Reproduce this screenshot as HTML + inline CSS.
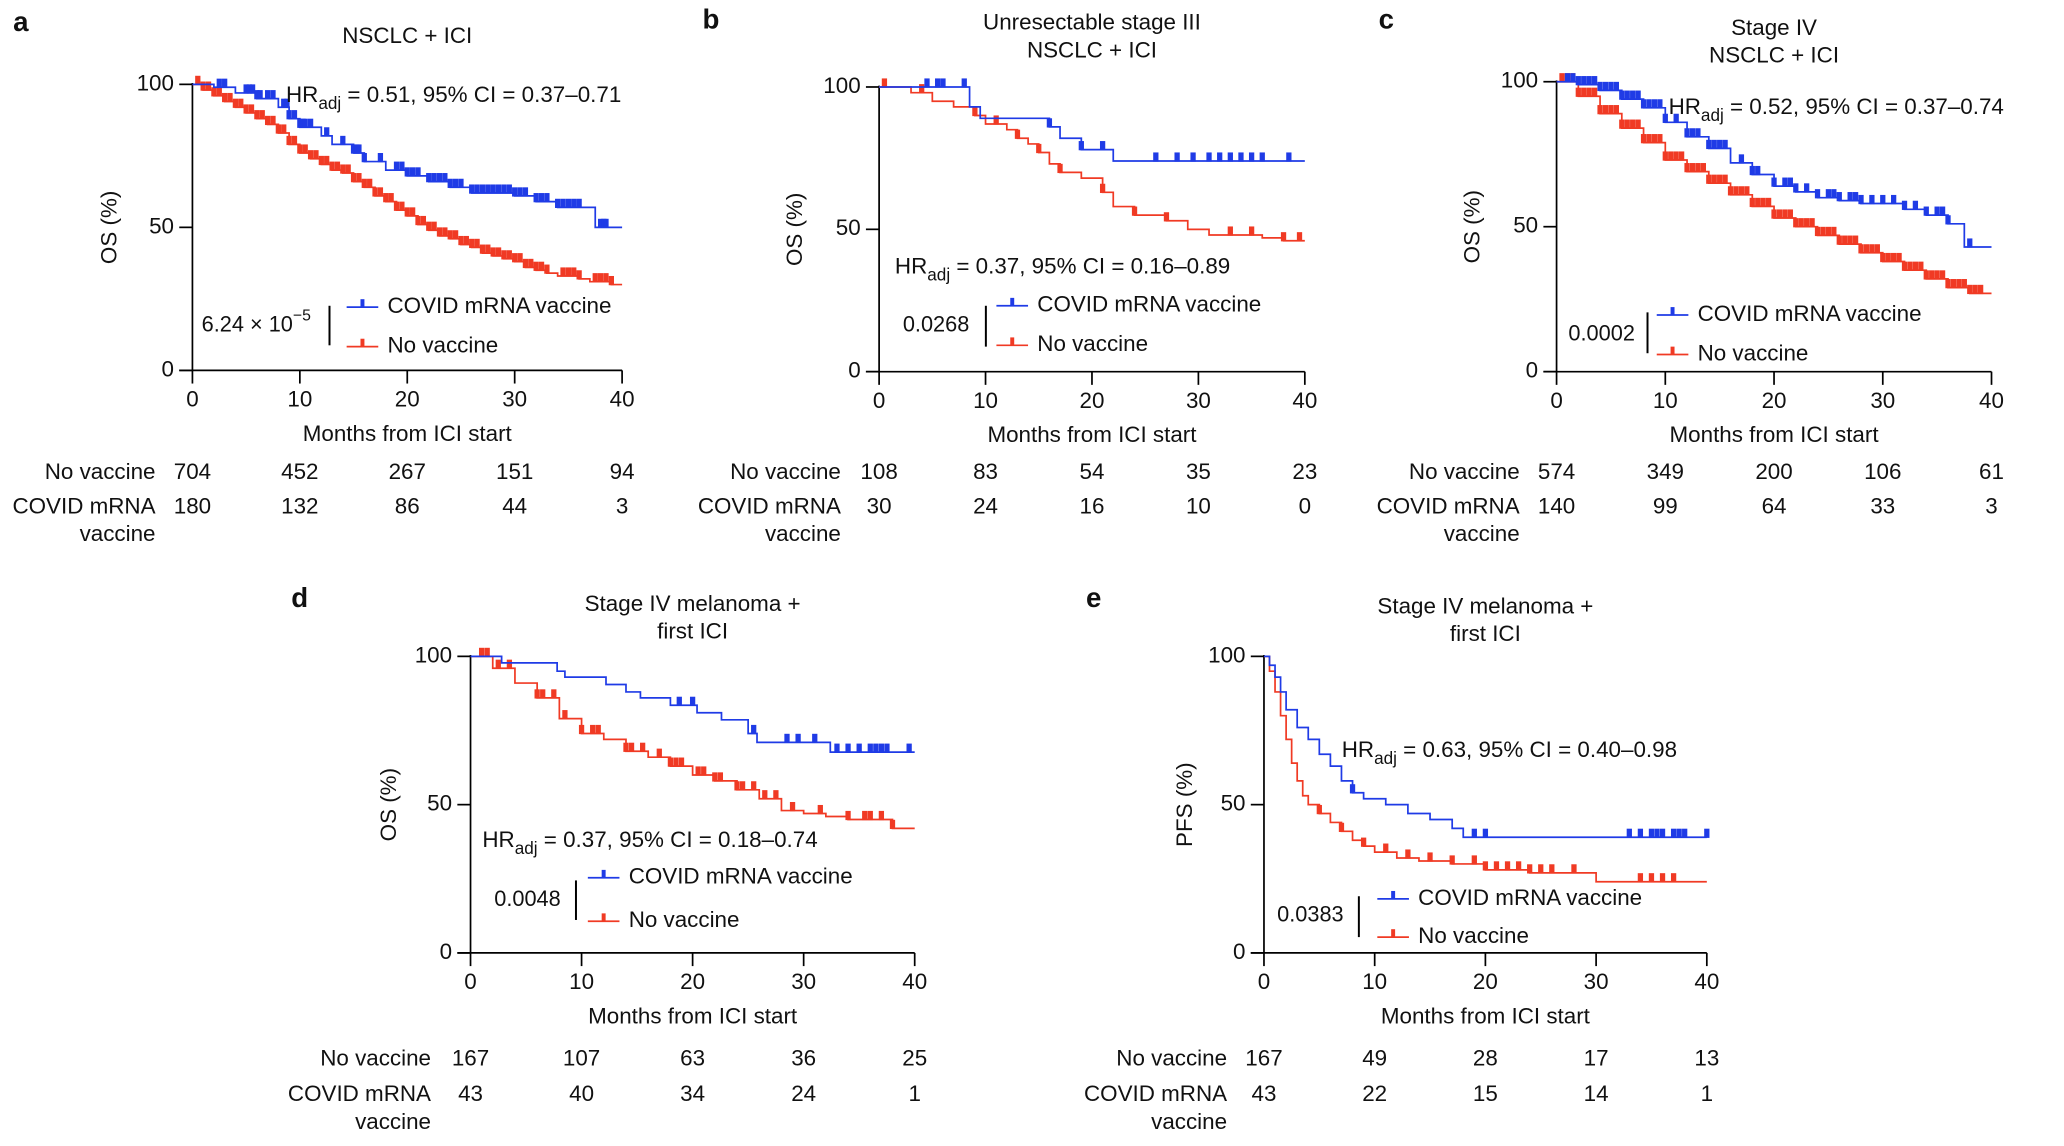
<!DOCTYPE html>
<html><head><meta charset="utf-8">
<style>
html,body{margin:0;padding:0;background:#fff;}
svg{display:block;}
text{font-family:"Liberation Sans",Arial,sans-serif;fill:#111;}
</style></head>
<body>
<svg id="fig" width="2064" height="1146" viewBox="0 0 1566 869.5" preserveAspectRatio="none" xmlns="http://www.w3.org/2000/svg"></svg>
<script>
// ---------- data ----------
const xTicks = [0,10,20,30,40];
const yTicks = [0,50,100];
// panel a
const aBlueT = [0,2,4,6,8,9,10,12,13,15,16,18,20,22,24,26,28,30,32,34,37.5];
const aBlueS = [100,99,97,95,92,88,85,82,79,76,73,70,68,66,64,62,62,61,59,57,50];
const aRedT = [0,1,2,3,4,5,6,7,8,9,10,11,12,13,14,15,16,17,18,19,20,21,22,23,24,25,26,27,28,29,30,31,32,33,34,35,36,37,38,39];
const aRedS = [100,98,96,94,92,90,88,86,83,79,76,74,72,70,69,66,64,61,59,56,54,51,49,47,46,44,43,41,40,39,38,36,35,34,33,33,32,31,31,30];
const aBlueC = [2.5,3,5,5.3,5.6,6,6.3,7,7.5,8.5,8.8,9,9.5,10,10.3,10.5,11,12.5,14,15,15.3,15.5,16,17.5,19,19.5,20,20.5,21,22,22.5,23,23.5,24,24.5,25,26,26.5,27,27.5,28,28.5,29,29.5,30,30.5,31,32,32.5,33,34,34.5,35,35.5,36,38,38.3,38.5];
const aRedC = [0.5,1,1.5,2,2.5,3,3.5,4,4.5,5,5.5,6,6.5,7,7.5,8,8.5,9,9.5,10,10.5,11,11.5,12,12.5,13,13.5,14,14.5,15,15.5,16,16.5,17,17.5,18,18.5,19,19.5,20,20.5,21,21.5,22,22.5,23,23.5,24,24.5,25,25.5,26,26.5,27,27.5,28,28.5,29,29.5,30,30.5,31,31.5,32,32.5,33,34.5,35,35.5,36,37.5,38,38.5,39];
const aRisk = [[704,452,267,151,94],[180,132,86,44,3]];
// panel b
const bBlueT = [0,8.5,9.5,16,17,19,22];
const bBlueS = [100,93,89,86,82,78,74];
const bRedT = [0,3,5,7,9,10,12,13,14,15,16,17,19,21,22,24,27,29,31,36,38];
const bRedS = [100,98,95,93,90,87,85,82,80,77,73,70,68,63,58,55,53,50,48,47,46];
const bBlueC = [4.5,5.5,6,8,16,19,21,26,28,29.5,31,32,33,34,35,36,38.5];
const bRedC = [0.5,4,9,11,13,15,17,21,24,27,33,35,38,39.5];
const bRisk = [[108,83,54,35,23],[30,24,16,10,0]];
// panel c
const cBlueT = [0,2,4,6,8,10,12,14,16,18,20,22,24,26,28,30,32,34,36,37.5];
const cBlueS = [100,99,97,94,91,86,81,77,72,68,64,62,60,59,58,58,56,54,51,43];
const cRedT = [0,2,4,6,8,10,12,14,16,18,20,22,24,26,28,30,32,34,36,38];
const cRedS = [100,95,89,84,79,73,69,65,61,57,53,50,47,44,41,38,35,32,29,27];
const cBlueC = [1,1.5,2,2.5,3,3.5,4,4.5,5,5.5,6,6.5,7,7.5,8,8.5,9,9.5,10,11,12,12.5,13,14,14.5,15,15.5,17,18,18.5,20,21,21.5,22,23,24,25,25.5,26,27,27.5,28,29,30,31,32,33,34,35,35.5,36,38];
const cRedC = [0.5,1,1.5,2,2.5,3,3.5,4,4.5,5,5.5,6,6.5,7,7.5,8,8.5,9,9.5,10,10.5,11,11.5,12,12.5,13,13.5,14,14.5,15,15.5,16,16.5,17,17.5,18,18.5,19,19.5,20,20.5,21,21.5,22,22.5,23,23.5,24,24.5,25,25.5,26,26.5,27,27.5,28,28.5,29,29.5,30,30.5,31,31.5,32,32.5,33,33.5,34,34.5,35,35.5,36,36.5,37,37.5,38,38.5,39];
const cRisk = [[574,349,200,106,61],[140,99,64,33,3]];
// panel d
const dBlueT = [0,2.8,7.8,8.5,12.2,14,15.3,18,20.4,22.6,25,25.8,32.4];
const dBlueS = [100,97.8,95,93,90.5,88,86,83.5,81,78.6,74,71,67.7];
const dRedT = [0,2,4,6,8,10,12,14,16,18,20,22,24,26,28,30,32,34,36,38];
const dRedS = [100,96,91,86,79,74,72,68,66,63,60,58,55,52,48,47,46,45,45,42];
const dBlueC = [18.8,20,25.5,28.5,29.5,31,33,34,35,36,36.5,37,37.5,39.5];
const dRedC = [1,1.5,2.5,3.5,6,6.5,7.5,8.5,10,11,11.5,14,14.5,15.5,17,18,18.5,19,20.5,21,22,22.5,24,24.5,25.5,26.5,27.5,29,31.5,34,35.5,36,37,38];
const dRisk = [[167,107,63,36,25],[43,40,34,24,1]];
// panel e
const eBlueT = [0,0.5,1,1.5,2,3,4,5,6,7,8,9,11,13,15,17,18];
const eBlueS = [100,97,93,88,82,76,72,67,63,58,54,52,50,47,45,42,39];
const eRedT = [0,0.5,1,1.5,2,2.5,3,3.5,4,5,6,7,8,9,10,12,14,17,20,24,30];
const eRedS = [100,95,88,80,72,64,58,53,50,47,44,41,38,36,34,32,31,30,28,27,24];
const eBlueC = [8,19,20,33,34,35,35.5,36,37,37.5,38,40];
const eRedC = [5,7,9,11,13,15,17,19,20,21,22,23,24,25,26,28,34,35,36,37];
const eRisk = [[167,49,28,17,13],[43,22,15,14,1]];

// ---------- drawing ----------
const NS = "http://www.w3.org/2000/svg";
const svg = document.getElementById('fig');
const BLUE = "#1f3be6", RED = "#f03a24";

function el(tag, attrs, name, parent){
  const e = document.createElementNS(NS, tag);
  for (const k in attrs) e.setAttribute(k, attrs[k]);
  
  
  (parent || svg).appendChild(e);
  return e;
}
function txt(x, y, s, size, anchor, name, parent, weight){
  const t = el('text', {x:x, y:y, 'font-size':size, 'text-anchor':anchor||'start', 'dominant-baseline':'middle'}, name, parent);
  if (weight) t.setAttribute('font-weight', weight);
  t.textContent = s;
  return t;
}
function sAt(T, S, c){ let v = S[0]; for (let i=0;i<T.length;i++){ if (T[i] <= c) v = S[i]; } return v; }

function panel(p){
  const g = el('g', {}, 'panel-' + p.id);
  const X = t => p.x0 + (p.x40 - p.x0) * t / 40;
  const Y = s => p.y0 - (p.y0 - p.y100) * s / 100;
  txt(p.lx, p.ly, p.id, 21, 'start', 'panel-label-' + p.id, g, 'bold');
  p.title.forEach((line, i) => txt((p.x0 + p.x40) / 2 + (p.tdx||0), p.ty + i * 21, line, 17, 'middle', 'panel-title', g));
  el('line', {x1:p.x0, y1:p.y100 - 1, x2:p.x0, y2:p.y0, stroke:'#000', 'stroke-width':1.3}, 'y-axis', g);
  el('line', {x1:p.x0 - 10, y1:p.y0, x2:p.x40, y2:p.y0, stroke:'#000', 'stroke-width':1.3}, 'x-axis', g);
  yTicks.forEach(v => {
    el('line', {x1:p.x0 - 10, y1:Y(v), x2:p.x0, y2:Y(v), stroke:'#000', 'stroke-width':1.3}, 'y-tick', g);
    txt(p.x0 - 14, Y(v), String(v), 17, 'end', 'y-tick-label', g);
  });
  xTicks.forEach(v => {
    el('line', {x1:X(v), y1:p.y0, x2:X(v), y2:p.y0 + 10, stroke:'#000', 'stroke-width':1.3}, 'x-tick', g);
    txt(X(v), p.y0 + 23, String(v), 17, 'middle', 'x-tick-label', g);
  });
  txt((p.x0 + p.x40) / 2, p.y0 + 49, 'Months from ICI start', 17, 'middle', 'x-axis-title', g);
  const yl = txt(p.ylx, (p.y0 + p.y100) / 2, p.ylab, 17, 'middle', 'y-axis-title', g);
  yl.setAttribute('transform', 'rotate(-90 ' + p.ylx + ' ' + ((p.y0 + p.y100) / 2) + ')');
  [[p.rT, p.rS, p.rC, RED, 'no-vaccine'], [p.bT, p.bS, p.bC, BLUE, 'vaccine']].forEach(sr => {
    const [T, S, C, col, nm] = sr;
    let d = 'M' + X(T[0]) + ' ' + Y(S[0]);
    for (let i = 1; i < T.length; i++) d += ' H' + X(T[i]) + ' V' + Y(S[i]);
    d += ' H' + X(p.end);
    el('path', {d:d, fill:'none', stroke:col, 'stroke-width':1.3}, 'km-curve-' + nm, g);
    C.forEach(c => {
      const s = sAt(T, S, c);
      el('rect', {x:X(c) - 2, y:Y(s) - 6.5, width:4, height:7, fill:col}, 'censor-mark-' + nm, g);
    });
  });
  const hr = el('text', {x:p.hrx, y:p.hry, 'font-size':17, 'dominant-baseline':'middle'}, 'hazard-ratio-text', g);
  hr.innerHTML = 'HR<tspan dy="6" font-size="13">adj</tspan><tspan dy="-6"> = ' + p.hr + '</tspan>';
  const pv = el('text', {x:p.px, y:p.py, 'font-size':16.5, 'dominant-baseline':'middle'}, 'p-value', g);
  pv.innerHTML = p.pval;
  el('line', {x1:p.barx, y1:p.bary1, x2:p.barx, y2:p.bary2, stroke:'#000', 'stroke-width':1.5}, 'p-value-bracket', g);
  [[p.lg1, BLUE, 'COVID mRNA vaccine', 'legend-vaccine'], [p.lg2, RED, 'No vaccine', 'legend-no-vaccine']].forEach(l => {
    const [ly, col, lab, nm] = l;
    el('line', {x1:p.lgx, y1:ly, x2:p.lgx + 24, y2:ly, stroke:col, 'stroke-width':1.3}, nm + '-line', g);
    el('rect', {x:p.lgx + 10.5, y:ly - 6, width:3, height:6, fill:col}, nm + '-mark', g);
    txt(p.lgx + 31, ly, lab, 17, 'start', nm + '-label', g);
  });
  txt(p.rlx, p.ry1, 'No vaccine', 17, 'end', 'risk-label-no-vaccine', g);
  txt(p.rlx, p.ry2, 'COVID mRNA', 17, 'end', 'risk-label-vaccine', g);
  txt(p.rlx, p.ry2 + 21, 'vaccine', 17, 'end', 'risk-label-vaccine-2', g);
  xTicks.forEach((v, i) => {
    txt(X(v), p.ry1, String(p.risk[0][i]), 17, 'middle', 'risk-count-no-vaccine', g);
    txt(X(v), p.ry2, String(p.risk[1][i]), 17, 'middle', 'risk-count-vaccine', g);
  });
}

panel({id:'a', x0:146, x40:472, y100:64, y0:281, lx:10, ly:18, title:['NSCLC + ICI'], ty:28, ylab:'OS (%)', ylx:84,
  bT:aBlueT, bS:aBlueS, bC:aBlueC, rT:aRedT, rS:aRedS, rC:aRedC, end:40,
  hr:'0.51, 95% CI = 0.37–0.71', hrx:217, hry:73, pval:'6.24 × 10<tspan dy="-7" font-size="12">−5</tspan>', px:153, py:247,
  barx:250, bary1:232, bary2:262, lgx:263, lg1:233, lg2:263, rlx:118, ry1:359, ry2:385, risk:aRisk});
panel({id:'b', x0:667, x40:990, y100:66, y0:282, lx:533, ly:16, title:['Unresectable stage III','NSCLC + ICI'], ty:18, ylab:'OS (%)', ylx:604,
  bT:bBlueT, bS:bBlueS, bC:bBlueC, rT:bRedT, rS:bRedS, rC:bRedC, end:40,
  hr:'0.37, 95% CI = 0.16–0.89', hrx:679, hry:203, pval:'0.0268', px:685, py:247,
  barx:748, bary1:232, bary2:263, lgx:756, lg1:232, lg2:262, rlx:638, ry1:359, ry2:385, risk:bRisk});
panel({id:'c', x0:1181, x40:1511, y100:62, y0:282, lx:1046, ly:16, title:['Stage IV','NSCLC + ICI'], ty:22, ylab:'OS (%)', ylx:1118,
  bT:cBlueT, bS:cBlueS, bC:cBlueC, rT:cRedT, rS:cRedS, rC:cRedC, end:40,
  hr:'0.52, 95% CI = 0.37–0.74', hrx:1266, hry:82, pval:'0.0002', px:1190, py:254,
  barx:1250, bary1:237, bary2:268, lgx:1257, lg1:239, lg2:269, rlx:1153, ry1:359, ry2:385, risk:cRisk});
panel({id:'d', x0:357, x40:694, y100:498, y0:723, lx:221, ly:455, title:['Stage IV melanoma +','first ICI'], ty:459, ylab:'OS (%)', ylx:296,
  bT:dBlueT, bS:dBlueS, bC:dBlueC, rT:dRedT, rS:dRedS, rC:dRedC, end:40,
  hr:'0.37, 95% CI = 0.18–0.74', hrx:366, hry:638, pval:'0.0048', px:375, py:683,
  barx:437, bary1:668, bary2:698, lgx:446, lg1:666, lg2:699, rlx:327, ry1:804, ry2:831, risk:dRisk});
panel({id:'e', x0:959, x40:1295, y100:498, y0:723, lx:824, ly:455, title:['Stage IV melanoma +','first ICI'], ty:461, ylab:'PFS (%)', ylx:900,
  bT:eBlueT, bS:eBlueS, bC:eBlueC, rT:eRedT, rS:eRedS, rC:eRedC, end:40,
  hr:'0.63, 95% CI = 0.40–0.98', hrx:1018, hry:570, pval:'0.0383', px:969, py:695,
  barx:1031, bary1:680, bary2:711, lgx:1045, lg1:682, lg2:711, rlx:931, ry1:804, ry2:831, risk:eRisk});
</script>
</body></html>
